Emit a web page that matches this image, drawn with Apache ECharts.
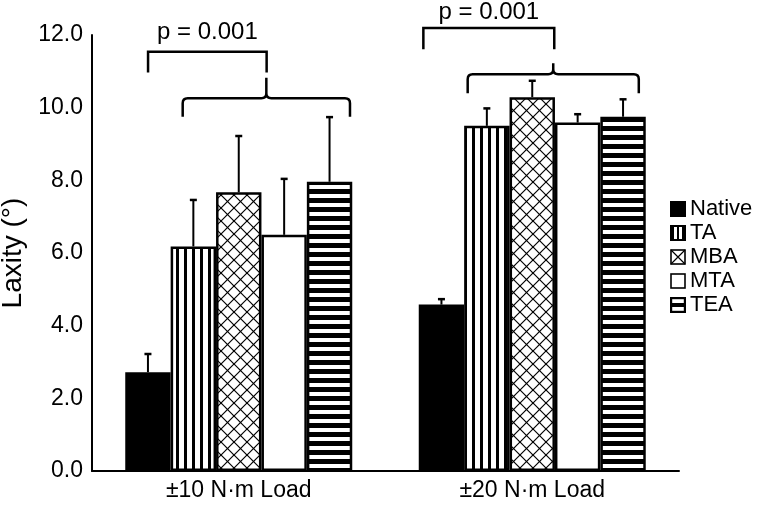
<!DOCTYPE html>
<html>
<head>
<meta charset="utf-8">
<script src="https://cdn.jsdelivr.net/npm/echarts@6/dist/echarts.min.js"></script>
<style>
html,body{margin:0;padding:0;background:#fff;}
#chart{width:775px;height:509px;}
</style>
</head>
<body>
<div id="chart"></div>
<script>
// ---- data ----
const categories = ['±10 N·m Load', '±20 N·m Load'];
const seriesNames = ['Native', 'TA', 'MBA', 'MTA', 'TEA'];
const nativeMean = [2.72, 4.58];
const nativeSD   = [0.50, 0.15];
const taMean     = [6.18, 9.50];
const taSD       = [1.28, 0.48];
const mbaMean    = [7.67, 10.29];
const mbaSD      = [1.55, 0.45];
const mtaMean    = [6.50, 9.59];
const mtaSD      = [1.54, 0.23];
const teaMean    = [7.96, 9.75];
const teaSD      = [1.78, 0.48];
const yTicks = [0, 2, 4, 6, 8, 10, 12];
const pLabel = 'p = 0.001';

const means = [nativeMean, taMean, mbaMean, mtaMean, teaMean];
const sds = [nativeSD, taSD, mbaSD, mtaSD, teaSD];

// ---- annotation layout (fractions of category band, y in data units) ----
const brackets = [
  {cat: 0, textY: 12.07, upper: {l: -0.309, r: 0.095, y: 11.54, end: 10.97},
   brace: {l: -0.191, r: 0.379, y: 10.26, end: 9.75, tip: 10.82}},
  {cat: 1, textY: 12.63, upper: {l: -0.371, r: 0.075, y: 12.19, end: 11.61},
   brace: {l: -0.220, r: 0.363, y: 10.92, end: 10.40, tip: 11.22}}
];

const FONT = '"Liberation Sans", Arial, Helvetica, sans-serif';
const BAR_W = 45.4;

function makeCanvas(w, h, draw) {
  const c = document.createElement('canvas');
  c.width = w; c.height = h;
  const ctx = c.getContext('2d');
  ctx.fillStyle = '#fff'; ctx.fillRect(0, 0, w, h);
  draw(ctx, w, h);
  return c;
}
const vStripe = makeCanvas(8, 8, (ctx) => { ctx.fillStyle = '#000'; ctx.fillRect(0, 0, 3, 8); });
const hStripe = makeCanvas(9, 9, (ctx) => { ctx.fillStyle = '#000'; ctx.fillRect(0, 0, 9, 5); });
const xHatch = makeCanvas(13, 13, (ctx, w, h) => {
  ctx.strokeStyle = '#000'; ctx.lineWidth = 1.2;
  for (let o = -13; o <= 13; o += 13) {
    ctx.beginPath(); ctx.moveTo(o - 2, -2); ctx.lineTo(o + 15, 15); ctx.stroke();
    ctx.beginPath(); ctx.moveTo(o + 15, -2); ctx.lineTo(o - 2, 15); ctx.stroke();
  }
});

const fills = [
  '#000',
  {image: vStripe, repeat: 'repeat'},
  {image: xHatch, repeat: 'repeat'},
  '#fff',
  {image: hStripe, repeat: 'repeat'}
];

// legend icons
const S = 16;
const legendIcons = [
  makeCanvas(S, S, (ctx) => { ctx.fillStyle = '#000'; ctx.fillRect(0, 0, S, S); }),
  makeCanvas(S, S, (ctx) => {
    ctx.fillStyle = '#000'; ctx.fillRect(0, 0, S, S);
    ctx.fillStyle = '#fff'; ctx.fillRect(4, 2, 3, S - 4); ctx.fillRect(9, 2, 3, S - 4);
  }),
  makeCanvas(S, S, (ctx) => {
    ctx.strokeStyle = '#000'; ctx.lineWidth = 1.6; ctx.strokeRect(1, 1, S - 2, S - 2);
    ctx.lineWidth = 1.2;
    ctx.beginPath(); ctx.moveTo(1, 1); ctx.lineTo(S - 1, S - 1); ctx.moveTo(S - 1, 1); ctx.lineTo(1, S - 1); ctx.stroke();
  }),
  makeCanvas(S, S, (ctx) => { ctx.strokeStyle = '#000'; ctx.lineWidth = 1.6; ctx.strokeRect(1, 1, S - 2, S - 2); }),
  makeCanvas(S, S, (ctx) => {
    ctx.strokeStyle = '#000'; ctx.lineWidth = 2.2; ctx.strokeRect(1.1, 1.1, S - 2.2, S - 2.2);
    ctx.fillStyle = '#000'; ctx.fillRect(0, 6, S, 4);
  })
];

const barSeries = seriesNames.map((name, i) => ({
  name: name,
  type: 'bar',
  data: means[i],
  barWidth: BAR_W,
  barGap: '0%',
  itemStyle: {color: fills[i], borderColor: '#000', borderWidth: i === 0 ? 0 : 2.5},
  emphasis: {disabled: true},
  silent: true,
  z: 2
}));

const errData = [];
seriesNames.forEach((n, i) => {
  categories.forEach((c, j) => { errData.push([j, i, means[i][j], sds[i][j]]); });
});

const errSeries = {
  type: 'custom',
  name: 'err',
  data: errData,
  silent: true,
  z: 5,
  renderItem: function (params, api) {
    const cat = api.value(0), si = api.value(1), m = api.value(2), sd = api.value(3);
    const base = api.coord([cat, m]);
    const top = api.coord([cat, m + sd]);
    const x = base[0] + (si - 2) * BAR_W;
    return {type: 'group', children: [
      {type: 'line', shape: {x1: x, y1: base[1], x2: x, y2: top[1]}, style: {stroke: '#000', lineWidth: 2}},
      {type: 'line', shape: {x1: x - 3.5, y1: top[1], x2: x + 3.5, y2: top[1]}, style: {stroke: '#000', lineWidth: 2.5}}
    ]};
  }
};

const annSeries = {
  type: 'custom',
  name: 'ann',
  data: brackets.map((b, i) => [b.cat, i]),
  silent: true,
  clip: false,
  z: 6,
  renderItem: function (params, api) {
    const b = brackets[params.dataIndex];
    const cx = api.coord([b.cat, 0])[0];
    const bw = api.size([1, 0])[0];
    const X = f => cx + f * bw;
    const Y = v => api.coord([b.cat, v])[1];
    const u = b.upper, br = b.brace;
    const uPath = `M${X(u.l)} ${Y(u.end)} L${X(u.l)} ${Y(u.y)} L${X(u.r)} ${Y(u.y)} L${X(u.r)} ${Y(u.end)}`;
    const xl = X(br.l), xr = X(br.r), xm = (xl + xr) / 2, yh = Y(br.y), ye = Y(br.end), yt = Y(br.tip);
    const r = 5;
    const bPath = `M${xl} ${ye} L${xl} ${yh + r} Q${xl} ${yh} ${xl + r} ${yh} L${xm - r} ${yh} Q${xm} ${yh} ${xm} ${yh - r} L${xm} ${yt}` +
      ` M${xm} ${yh - r} Q${xm} ${yh} ${xm + r} ${yh} L${xr - r} ${yh} Q${xr} ${yh} ${xr} ${yh + r} L${xr} ${ye}`;
    return {type: 'group', children: [
      {type: 'path', shape: {pathData: uPath}, style: {stroke: '#000', lineWidth: 2.5, fill: null}},
      {type: 'path', shape: {pathData: bPath}, style: {stroke: '#000', lineWidth: 2.5, fill: null}},
      {type: 'text', style: {text: pLabel, x: (X(u.l) + X(u.r)) / 2, y: Y(b.textY), align: 'center', verticalAlign: 'middle',
        fontSize: 24, fontFamily: FONT, fill: '#000'}}
    ]};
  }
};

const chart = echarts.init(document.getElementById('chart'), null, {renderer: 'canvas'});
chart.setOption({
  animation: false,
  backgroundColor: '#fff',
  grid: {left: 92, right: 96, top: 35, bottom: 38, containLabel: false, outerBoundsMode: 'none'},
  legend: {
    orient: 'vertical',
    left: 670,
    top: 198,
    padding: 0,
    itemWidth: 16,
    itemHeight: 16,
    itemGap: 2,
    selectedMode: false,
    textStyle: {fontSize: 22, fontFamily: FONT, color: '#000', padding: [0, 0, 0, -1]},
    data: seriesNames.map((n, i) => ({name: n, icon: 'image://' + legendIcons[i].toDataURL()}))
  },
  xAxis: {
    type: 'category',
    data: categories,
    axisLine: {lineStyle: {color: '#000', width: 2}},
    axisTick: {show: false},
    axisLabel: {fontSize: 23, fontFamily: FONT, color: '#000', margin: 8}
  },
  yAxis: {
    type: 'value',
    min: yTicks[0],
    max: yTicks[yTicks.length - 1],
    interval: yTicks[1] - yTicks[0],
    name: 'Laxity (°)',
    nameLocation: 'middle',
    nameGap: 60,
    nameTextStyle: {fontSize: 28, fontFamily: FONT, color: '#000'},
    axisLine: {show: true, lineStyle: {color: '#000', width: 2}},
    axisTick: {show: false},
    splitLine: {show: false},
    axisLabel: {fontSize: 23, fontFamily: FONT, color: '#000', margin: 9, formatter: v => v.toFixed(1)}
  },
  series: barSeries.concat([errSeries, annSeries])
});
</script>
</body>
</html>
